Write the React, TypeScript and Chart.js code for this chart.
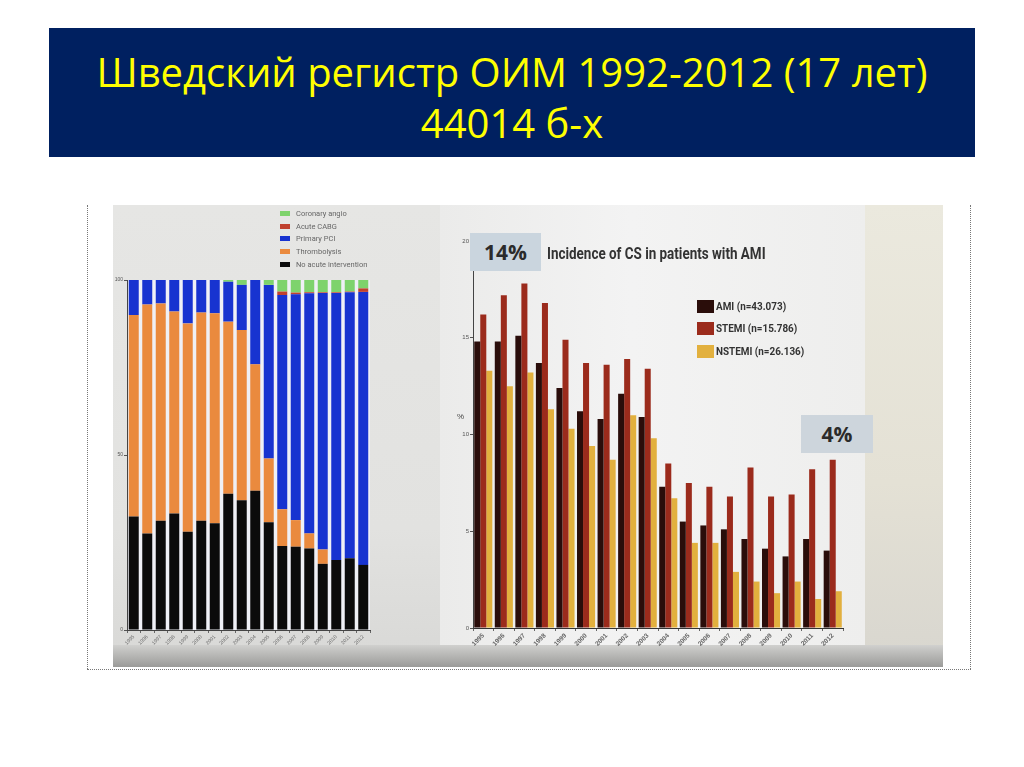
import { useEffect, useRef } from 'react';
import { Chart, registerables } from 'chart.js';

Chart.register(...registerables);

const years = ['1995', '1996', '1997', '1998', '1999', '2000', '2001', '2002', '2003', '2004', '2005', '2006', '2007', '2008', '2009', '2010', '2011', '2012'];

// left panel: acute treatment of AMI patients, % per year
const noAcuteIntervention = [32.4, 27.6, 31.2, 33.3, 28.1, 31.2, 30.5, 38.9, 37.1, 39.8, 30.8, 24.0, 23.8, 23.3, 18.9, 20.0, 20.5, 18.6];
const thrombolysis = [57.6, 65.4, 62.1, 57.7, 59.5, 59.5, 60.0, 49.2, 48.6, 36.1, 18.2, 10.5, 7.6, 4.3, 4.1, 0, 0, 0];
const primaryPci = [10.0, 7.0, 6.7, 9.0, 12.4, 9.3, 9.5, 11.4, 12.9, 24.1, 49.6, 61.2, 64.5, 68.6, 73.3, 76.3, 76.0, 78.0];
const acuteCabg = [0, 0, 0, 0, 0, 0, 0, 0, 0, 0, 0, 1.0, 0.5, 0.3, 0.2, 0.2, 0.2, 1.0];
const coronaryAngio = [0, 0, 0, 0, 0, 0, 0, 0.5, 1.4, 0, 1.4, 3.3, 3.6, 3.5, 3.5, 3.5, 3.3, 2.4];
const leftTicks = [0, 50, 100];

// right panel: incidence of cardiogenic shock, %
const ami = [14.8, 14.8, 15.1, 13.7, 12.4, 11.2, 10.8, 12.1, 10.9, 7.3, 5.5, 5.3, 5.1, 4.6, 4.1, 3.7, 4.6, 4.0];
const stemi = [16.2, 17.2, 17.8, 16.8, 14.9, 13.7, 13.6, 13.9, 13.4, 8.5, 7.5, 7.3, 6.8, 8.3, 6.8, 6.9, 8.2, 8.7];
const nstemi = [13.3, 12.5, 13.2, 11.3, 10.3, 9.4, 8.7, 11.0, 9.8, 6.7, 4.4, 4.4, 2.9, 2.4, 1.8, 2.4, 1.5, 1.9];
const rightTicks = [0, 5, 10, 15, 20];

const leftLegend = [
  { label: 'Coronary angio', color: '#7ed36c' },
  { label: 'Acute CABG', color: '#c0412e' },
  { label: 'Primary PCI', color: '#1733d0' },
  { label: 'Thrombolysis', color: '#ea8a3e' },
  { label: 'No acute intervention', color: '#0b0b0b' },
];
const rightLegend = [
  { label: 'AMI (n=43.073)', color: '#2a0d0a' },
  { label: 'STEMI (n=15.786)', color: '#9b2b1c' },
  { label: 'NSTEMI (n=26.136)', color: '#e2b03e' },
];

const areaBg = (color: string) => ({
  id: 'areaBg',
  beforeDraw(chart: Chart) {
    const { ctx, chartArea } = chart;
    ctx.save();
    ctx.fillStyle = color;
    ctx.fillRect(chartArea.left, chartArea.top, chartArea.right - chartArea.left, chartArea.bottom - chartArea.top);
    ctx.restore();
  },
});

function LeftChart() {
  const canvasRef = useRef<HTMLCanvasElement>(null);
  useEffect(() => {
    if (!canvasRef.current) return;
    const chart = new Chart(canvasRef.current, {
      type: 'bar',
      data: {
        labels: years,
        datasets: [
          { label: 'No acute intervention', data: noAcuteIntervention, backgroundColor: '#0b0b0b' },
          { label: 'Thrombolysis', data: thrombolysis, backgroundColor: '#ea8a3e' },
          { label: 'Primary PCI', data: primaryPci, backgroundColor: '#1733d0' },
          { label: 'Acute CABG', data: acuteCabg, backgroundColor: '#c0412e' },
          { label: 'Coronary angio', data: coronaryAngio, backgroundColor: '#7ed36c' },
        ],
      },
      options: {
        responsive: true,
        maintainAspectRatio: false,
        animation: false,
        layout: { padding: { top: 75, right: 70, left: 0, bottom: 0 } },
        datasets: { bar: { barPercentage: 0.74, categoryPercentage: 1 } },
        plugins: { legend: { display: false }, tooltip: { enabled: false } },
        scales: {
          x: {
            stacked: true,
            afterFit: (s: any) => { s.height = 37; },
            ticks: { color: '#666', font: { size: 5, family: 'Liberation Sans' }, autoSkip: false, minRotation: 45, maxRotation: 45, padding: 1 },
            grid: { display: true, drawOnChartArea: false, tickLength: 3, color: '#666' },
            border: { display: true, color: '#444' },
          },
          y: {
            stacked: true,
            min: 0,
            max: 100,
            afterFit: (s: any) => { s.width = 27; },
            afterBuildTicks: (s: any) => { s.ticks = leftTicks.map(v => ({ value: v })); },
            ticks: { color: '#555', font: { size: 5, family: 'Liberation Sans' }, padding: 1 },
            grid: { display: true, drawOnChartArea: false, tickLength: 3, color: '#555' },
            border: { display: true, color: '#444' },
          },
        },
      },
      plugins: [areaBg('#eff0f6')],
    });
    return () => chart.destroy();
  }, []);
  return (
    <div style={{ position: 'absolute', left: 100, top: 205, width: 340, height: 462 }}>
      <canvas ref={canvasRef} role="img" aria-label="Stacked bar chart of acute treatment by year" />
    </div>
  );
}

function RightChart() {
  const canvasRef = useRef<HTMLCanvasElement>(null);
  useEffect(() => {
    if (!canvasRef.current) return;
    const chart = new Chart(canvasRef.current, {
      type: 'bar',
      data: {
        labels: years,
        datasets: [
          { label: 'AMI', data: ami, backgroundColor: '#2a0d0a' },
          { label: 'STEMI', data: stemi, backgroundColor: '#9b2b1c' },
          { label: 'NSTEMI', data: nstemi, backgroundColor: '#e2b03e' },
        ],
      },
      options: {
        responsive: true,
        maintainAspectRatio: false,
        animation: false,
        layout: { padding: { top: 36, right: 27, left: 0, bottom: 0 } },
        datasets: { bar: { barPercentage: 1, categoryPercentage: 0.88 } },
        plugins: { legend: { display: false }, tooltip: { enabled: false } },
        scales: {
          x: {
            afterFit: (s: any) => { s.height = 39; },
            ticks: { color: '#666', font: { size: 6.5, weight: 'bold', family: 'Liberation Sans' }, autoSkip: false, minRotation: 45, maxRotation: 45, padding: 1 },
            grid: { display: true, drawOnChartArea: false, tickLength: 3, color: '#666' },
            border: { display: true, color: '#333' },
          },
          y: {
            min: 0,
            max: 20,
            afterFit: (s: any) => { s.width = 33; },
            afterBuildTicks: (s: any) => { s.ticks = rightTicks.map(v => ({ value: v })); },
            ticks: { color: '#555', font: { size: 6, family: 'Liberation Sans' }, padding: 1 },
            grid: { display: true, drawOnChartArea: false, tickLength: 3, color: '#555' },
            border: { display: true, color: '#444' },
          },
        },
      },
    });
    return () => chart.destroy();
  }, []);
  return (
    <div style={{ position: 'absolute', left: 440, top: 205, width: 430, height: 462 }}>
      <canvas ref={canvasRef} role="img" aria-label="Incidence of cardiogenic shock in AMI patients" />
    </div>
  );
}

export default function App() {
  const narrow = '"Roboto", "Liberation Sans", sans-serif';
  return (
    <div style={{ position: 'absolute', left: 0, top: 0, width: 1024, height: 767, background: '#fff', overflow: 'hidden', fontFamily: '"Open Sans", sans-serif' }}>
      {/* slide title */}
      <div style={{ position: 'absolute', left: 49, top: 28, width: 926, height: 129, background: '#002060', color: '#ffff00', textAlign: 'center', fontSize: 40, lineHeight: '51px', paddingTop: 18, boxSizing: 'border-box' }}>
        Шведский регистр ОИМ 1992-2012 (17 лет)
        <br />
        44014 б-х
      </div>

      {/* dotted frame */}
      <div style={{ position: 'absolute', left: 87, top: 205, height: 464, borderLeft: '1px dotted #777' }} />
      <div style={{ position: 'absolute', left: 970, top: 205, height: 464, borderLeft: '1px dotted #777' }} />
      <div style={{ position: 'absolute', left: 87, top: 669, width: 884, borderTop: '1px dotted #777' }} />

      {/* picture background */}
      <div style={{ position: 'absolute', left: 113, top: 205, width: 327, height: 462, background: 'linear-gradient(180deg, #e6e6e4 0%, #e2e2e0 70%, #d8d8d6 100%)' }} />
      <div style={{ position: 'absolute', left: 440, top: 205, width: 425, height: 462, background: 'linear-gradient(90deg, #ebebea 0%, #f3f3f3 45%, #eeeeed 100%)' }} />
      <div style={{ position: 'absolute', left: 865, top: 205, width: 78, height: 462, background: 'linear-gradient(180deg, #ebe9de 0%, #e4e1d5 60%, #d8d6cf 100%)' }} />
      <div style={{ position: 'absolute', left: 113, top: 645, width: 830, height: 22, background: 'linear-gradient(180deg, #d0d0ce 0%, #b0b0ae 60%, #9a9a98 100%)' }} />

      <LeftChart />
      <RightChart />

      {/* left legend */}
      <div style={{ position: 'absolute', left: 280, top: 207, fontFamily: narrow, fontSize: 7.5, color: '#666' }}>
        {leftLegend.map(item => (
          <div key={item.label} style={{ display: 'flex', alignItems: 'center', height: 12.7 }}>
            <span style={{ display: 'inline-block', width: 10, height: 5, background: item.color, marginRight: 6 }} />
            {item.label}
          </div>
        ))}
      </div>

      {/* right title and boxes */}
      <div style={{ position: 'absolute', left: 470, top: 233, width: 71, height: 38, background: '#cad5de', color: '#2b2b2b', fontWeight: 'bold', fontSize: 21, lineHeight: '38px', textAlign: 'center', fontFamily: '"Open Sans", sans-serif' }}>14%</div>
      <div style={{ position: 'absolute', left: 547, top: 244, fontFamily: narrow, fontWeight: 'bold', fontSize: 16, color: '#333', whiteSpace: 'nowrap', transform: 'scaleX(0.84)', transformOrigin: 'left center' }}>Incidence of CS in patients with AMI</div>
      <div style={{ position: 'absolute', left: 801, top: 415, width: 72, height: 38, background: '#cdd5dc', color: '#2b2b2b', fontWeight: 'bold', fontSize: 21, lineHeight: '38px', textAlign: 'center', fontFamily: '"Open Sans", sans-serif' }}>4%</div>
      <div style={{ position: 'absolute', left: 457, top: 412, fontSize: 8, color: '#444', fontFamily: 'Liberation Sans' }}>%</div>

      {/* right legend */}
      <div style={{ position: 'absolute', left: 697, top: 295, fontFamily: narrow, fontWeight: 'bold', fontSize: 11, color: '#333' }}>
        {rightLegend.map(item => (
          <div key={item.label} style={{ display: 'flex', alignItems: 'center', height: 22.5 }}>
            <span style={{ display: 'inline-block', width: 17, height: 13, background: item.color, marginRight: 2 }} />
            <span style={{ display: 'inline-block', transform: 'scaleX(0.9)', transformOrigin: 'left center' }}>{item.label}</span>
          </div>
        ))}
      </div>
    </div>
  );
}
